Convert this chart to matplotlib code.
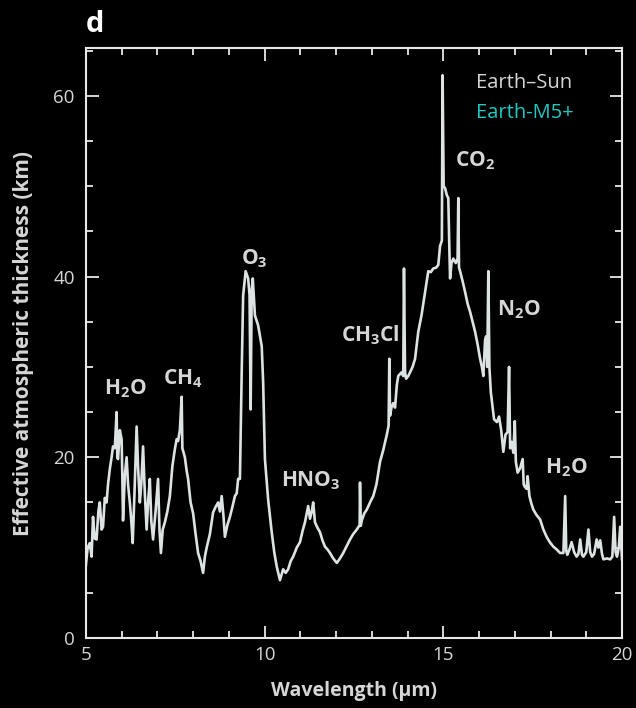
import matplotlib
matplotlib.use("Agg")
import matplotlib.pyplot as plt
from matplotlib.ticker import MultipleLocator

# Earth-Sun transmission spectrum
wavelength = [5.00, 5.05, 5.11, 5.16, 5.20, 5.25, 5.30, 5.35, 5.39, 5.44, 5.48, 5.53, 5.58, 5.62,
              5.67, 5.72, 5.76, 5.81, 5.86, 5.88, 5.90, 5.95, 6.00, 6.02, 6.04, 6.09, 6.14, 6.18,
              6.23, 6.27, 6.31, 6.36, 6.42, 6.46, 6.51, 6.55, 6.60, 6.65, 6.70, 6.74, 6.79, 6.83,
              6.88, 6.95, 7.02, 7.06, 7.10, 7.15, 7.21, 7.28, 7.35, 7.42, 7.49, 7.54, 7.58, 7.63,
              7.68, 7.70, 7.77, 7.82, 7.86, 7.93, 8.00, 8.07, 8.14, 8.21, 8.28, 8.33, 8.38, 8.47,
              8.56, 8.63, 8.70, 8.75, 8.80, 8.85, 8.89, 8.96, 9.03, 9.10, 9.17, 9.22, 9.26, 9.31,
              9.36, 9.40, 9.47, 9.54, 9.58, 9.61, 9.64, 9.67, 9.73, 9.82, 9.92, 9.96, 10.01, 10.10,
              10.20, 10.27, 10.34, 10.43, 10.52, 10.59, 10.66, 10.73, 10.80, 10.90, 10.99, 11.06,
              11.13, 11.22, 11.27, 11.32, 11.36, 11.41, 11.48, 11.55, 11.62, 11.69, 11.76, 11.83,
              11.92, 12.02, 12.11, 12.20, 12.30, 12.39, 12.48, 12.58, 12.66, 12.67, 12.69, 12.72,
              12.79, 12.86, 12.95, 13.04, 13.13, 13.23, 13.32, 13.42, 13.47, 13.49, 13.51, 13.55,
              13.60, 13.65, 13.70, 13.74, 13.83, 13.88, 13.90, 13.93, 13.96, 14.02, 14.07, 14.14,
              14.21, 14.30, 14.39, 14.49, 14.58, 14.65, 14.72, 14.80, 14.86, 14.91, 14.96, 14.98,
              15.01, 15.05, 15.10, 15.14, 15.17, 15.19, 15.23, 15.28, 15.35, 15.40, 15.42, 15.44,
              15.47, 15.54, 15.61, 15.68, 15.75, 15.82, 15.89, 15.96, 16.03, 16.08, 16.12, 16.17,
              16.20, 16.23, 16.26, 16.29, 16.33, 16.38, 16.42, 16.50, 16.56, 16.62, 16.68, 16.74,
              16.80, 16.84, 16.87, 16.91, 16.96, 17.00, 17.03, 17.08, 17.15, 17.22, 17.25, 17.27,
              17.33, 17.36, 17.41, 17.47, 17.52, 17.61, 17.71, 17.80, 17.89, 17.98, 18.08, 18.17,
              18.27, 18.36, 18.41, 18.44, 18.47, 18.53, 18.59, 18.66, 18.73, 18.78, 18.83, 18.88,
              18.92, 19.00, 19.06, 19.11, 19.16, 19.22, 19.29, 19.34, 19.39, 19.44, 19.48, 19.58,
              19.67, 19.73, 19.78, 19.82, 19.86, 19.91, 19.95, 20.00]
thickness = [8.0, 10.0, 10.5, 9.0, 13.4, 11.0, 10.9, 14.0, 15.0, 12.0, 12.3, 15.5, 15.0, 17.0,
             18.7, 20.0, 21.2, 21.0, 25.0, 20.0, 19.8, 23.0, 22.0, 18.0, 13.0, 18.0, 20.0, 17.0,
             15.0, 13.0, 10.5, 16.0, 23.4, 19.0, 15.0, 17.0, 21.2, 16.0, 12.0, 15.0, 17.6, 13.0,
             10.9, 14.0, 17.6, 12.0, 9.4, 12.0, 12.8, 14.0, 15.7, 19.0, 20.9, 22.0, 21.8, 23.0,
             26.7, 21.0, 20.0, 18.5, 17.6, 15.0, 13.8, 11.5, 9.4, 8.5, 7.2, 9.0, 10.0, 11.5,
             13.9, 14.5, 15.0, 14.0, 15.7, 13.5, 11.2, 12.5, 13.4, 14.5, 15.7, 16.0, 17.6, 17.6,
             29.4, 37.9, 40.6, 39.8, 38.0, 25.3, 38.5, 39.8, 35.7, 34.6, 32.3, 28.3, 19.8, 15.3,
             11.7, 9.5, 7.9, 6.4, 7.6, 7.2, 7.6, 8.5, 9.0, 10.0, 10.6, 11.8,
             12.8, 14.6, 13.2, 14.0, 15.0, 12.8, 12.2, 11.7, 10.8, 10.1, 9.8, 9.4,
             8.8, 8.3, 8.8, 9.4, 10.2, 10.9, 11.5, 12.0, 12.5, 17.2, 12.4, 13.0,
             13.8, 14.2, 15.0, 15.7, 17.0, 19.5, 20.8, 22.5, 23.5, 30.9, 24.6, 25.5,
             26.0, 25.5, 28.0, 29.0, 29.4, 29.0, 40.9, 29.4, 28.7, 29.0, 29.4, 30.0,
             30.9, 33.9, 35.7, 38.3, 40.6, 40.5, 40.9, 41.0, 41.3, 43.4, 44.0, 62.3,
             50.0, 49.8, 49.0, 48.7, 43.0, 39.8, 41.5, 42.0, 41.5, 42.0, 48.7, 41.0,
             40.6, 39.5, 38.3, 37.0, 36.1, 35.0, 33.9, 32.5, 30.9, 30.0, 29.0, 33.0,
             33.4, 30.0, 40.6, 30.0, 27.2, 25.5, 24.2, 23.9, 24.5, 23.0, 20.6, 22.5,
             22.8, 30.0, 21.0, 21.7, 20.5, 24.0, 19.5, 18.3, 18.8, 19.8, 17.0, 16.8,
             16.5, 17.9, 15.7, 14.8, 14.2, 13.6, 13.1, 12.0, 11.2, 10.6, 10.1, 9.8,
             9.4, 9.4, 15.7, 9.6, 9.2, 9.8, 10.6, 9.5, 9.0, 9.3, 10.9, 9.2,
             9.0, 9.5, 12.0, 9.5, 9.0, 9.3, 10.9, 10.0, 10.8, 9.3, 8.7, 8.8,
             8.7, 9.0, 13.4, 9.5, 9.0, 10.0, 12.3, 8.7]

molecules = ["H$_2$O", "CH$_4$", "O$_3$", "HNO$_3$", "CH$_3$Cl", "CO$_2$", "N$_2$O", "H$_2$O"]
mol_x = [6.1, 7.72, 9.7, 11.3, 12.95, 15.9, 17.1, 18.45]
mol_y = [27.6, 28.7, 42.0, 17.4, 33.5, 52.8, 36.3, 18.8]

txt = "#d6d6d6"
plt.rcParams["font.family"] = ["Open Sans", "DejaVu Sans"]
plt.rcParams["mathtext.fontset"] = "custom"
plt.rcParams["mathtext.rm"] = "Open Sans:bold"
plt.rcParams["mathtext.it"] = "Open Sans:bold"

fig = plt.figure(figsize=(6.36, 7.08), dpi=100, facecolor="black")
ax = fig.add_axes([0.135, 0.099, 0.843, 0.833], facecolor="black")

ax.plot(wavelength, thickness, color="#dde3e3", lw=1.9)

for m, x, y in zip(molecules, mol_x, mol_y):
    ax.text(x, y, m, color=txt, fontsize=15, fontweight="bold", ha="center", va="center")

ax.text(0.728, 0.932, "Earth–Sun", transform=ax.transAxes, color=txt, fontsize=14.5)
ax.text(0.728, 0.882, "Earth-M5+", transform=ax.transAxes, color="#1fc8c0", fontsize=14.5)

ax.set_xlim(5, 20)
ax.set_ylim(0, 65.3)
ax.xaxis.set_major_locator(MultipleLocator(5))
ax.xaxis.set_minor_locator(MultipleLocator(1))
ax.yaxis.set_major_locator(MultipleLocator(20))
ax.yaxis.set_minor_locator(MultipleLocator(5))
ax.tick_params(which="both", direction="in", top=True, right=True, colors="#e8e8e8",
               labelcolor=txt, labelsize=13.5, width=1.3)
ax.tick_params(which="major", length=9)
ax.tick_params(which="minor", length=5)
ax.tick_params(axis="y", pad=8)
ax.tick_params(axis="x", pad=6)
for s in ax.spines.values():
    s.set_color("#e8e8e8")
    s.set_linewidth(1.5)

ax.set_xlabel("Wavelength (µm)", color=txt, fontsize=14, fontweight="bold", labelpad=12)
ax.set_ylabel("Effective atmospheric thickness (km)", color=txt, fontsize=15,
              fontweight="bold", labelpad=14)
fig.text(0.135, 0.966, "d", color="white", fontsize=21, fontweight="bold", va="center")

fig.savefig("out.png", dpi=100, facecolor="black")
